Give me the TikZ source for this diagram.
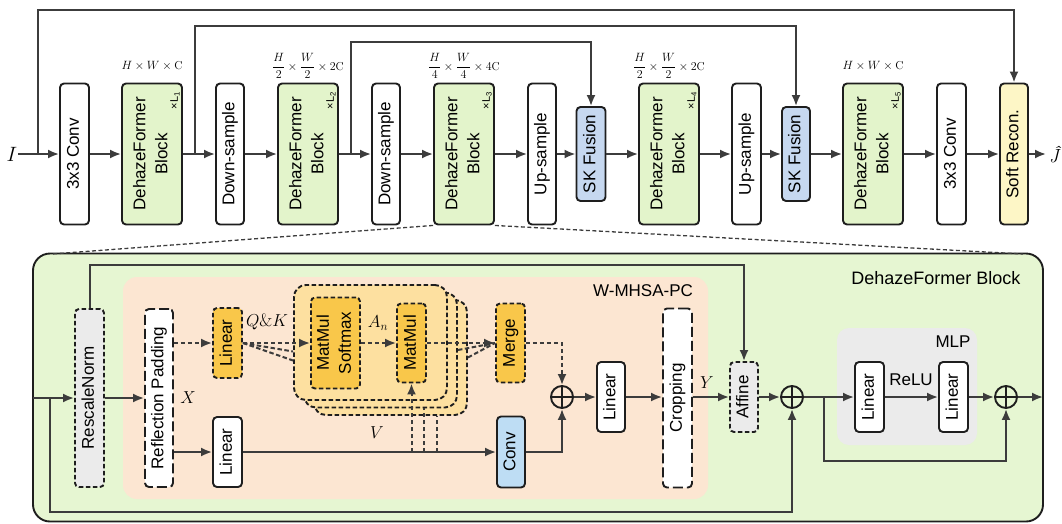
\documentclass[tikz,border=0pt]{standalone}
\usepackage{fontspec}
\setsansfont{Liberation Sans}
\usepackage{amsmath}
\usetikzlibrary{arrows.meta,calc}
\definecolor{greenf}{HTML}{E3F4CB}
\definecolor{bigf}{HTML}{E6F6D2}
\definecolor{peach}{HTML}{FCE6D2}
\definecolor{orangef}{HTML}{F9C74A}
\definecolor{stackf}{HTML}{FDE0A0}
\definecolor{skblue}{HTML}{C6D8F0}
\definecolor{convblue}{HTML}{BEDDF4}
\definecolor{softy}{HTML}{FDF6C6}
\definecolor{grayf}{HTML}{EBEBEB}
\definecolor{linec}{HTML}{3C3C3C}
\definecolor{boxc}{HTML}{1E1E1E}
\newcommand{\vtxt}[1]{\rotatebox{90}{\begin{tabular}{@{}c@{}}#1\end{tabular}}}
\tikzset{
  box/.style={draw=boxc, line width=1.9pt, rounded corners=4pt, inner sep=0pt,
    font=\sffamily\fontsize{17}{22}\selectfont},
  dbox/.style={box, dash pattern=on 4.5pt off 2.5pt},
  ldbox/.style={box, dash pattern=on 10pt off 4pt},
  arr/.style={draw=linec, line width=2pt, -{Latex[length=11pt,width=9pt]}},
  line/.style={draw=linec, line width=2pt},
  darr/.style={arr, dash pattern=on 4.5pt off 2.5pt},
  dline/.style={line, dash pattern=on 4.5pt off 2.5pt},
  pluss/.style={draw=boxc, circle, line width=1.9pt, minimum size=22pt, inner sep=0pt},
  dimlab/.style={font=\fontsize{11.5}{12}\selectfont},
  mlab/.style={font=\fontsize{18}{18}\selectfont},
  lname/.style={font=\sffamily\fontsize{11}{11}\selectfont, inner sep=0pt},
  tlab/.style={font=\sffamily\fontsize{17}{18}\selectfont}
}
\begin{document}
\begin{tikzpicture}[x=1pt,y=-1pt]
\useasboundingbox (0,0) rectangle (1062,523);
% ===== top row =====
\node[box, fill=white, minimum width=29pt, minimum height=141pt] (conv1) at (74.5,154) {\vtxt{3x3 Conv}};
\node[box, fill=greenf, minimum width=60pt, minimum height=141pt] (dfb1) at (152,154) {\vtxt{DehazeFormer\\Block}};
\node[box, fill=white, minimum width=28pt, minimum height=141pt] (down1) at (230,154) {\vtxt{Down-sample}};
\node[box, fill=greenf, minimum width=60pt, minimum height=141pt] (dfb2) at (308,154) {\vtxt{DehazeFormer\\Block}};
\node[box, fill=white, minimum width=28pt, minimum height=141pt] (down2) at (386,154) {\vtxt{Down-sample}};
\node[box, fill=greenf, minimum width=60pt, minimum height=141pt] (dfb3) at (464,154) {\vtxt{DehazeFormer\\Block}};
\node[box, fill=white, minimum width=28pt, minimum height=141pt] (up1) at (542,154) {\vtxt{Up-sample}};
\node[box, fill=skblue, minimum width=29pt, minimum height=94pt] (sk1) at (591,154) {\vtxt{SK Fusion}};
\node[box, fill=greenf, minimum width=60pt, minimum height=141pt] (dfb4) at (669,154) {\vtxt{DehazeFormer\\Block}};
\node[box, fill=white, minimum width=29pt, minimum height=141pt] (up2) at (746.5,154) {\vtxt{Up-sample}};
\node[box, fill=skblue, minimum width=28pt, minimum height=94pt] (sk2) at (796,154) {\vtxt{SK Fusion}};
\node[box, fill=greenf, minimum width=60pt, minimum height=141pt] (dfb5) at (873,154) {\vtxt{DehazeFormer\\Block}};
\node[box, fill=white, minimum width=29pt, minimum height=141pt] (conv2) at (951.5,154) {\vtxt{3x3 Conv}};
\node[box, fill=softy, minimum width=28pt, minimum height=141pt] (soft) at (1014,154) {\vtxt{Soft Recon.}};
% repeat counts
\node[lname] (L1) at ($(dfb1.north east)+(-8,18)$) {\rotatebox{90}{×L\textsubscript{1}}};
\node[lname] (L2) at ($(dfb2.north east)+(-8,18)$) {\rotatebox{90}{×L\textsubscript{2}}};
\node[lname] (L3) at ($(dfb3.north east)+(-8,18)$) {\rotatebox{90}{×L\textsubscript{3}}};
\node[lname] (L4) at ($(dfb4.north east)+(-8,18)$) {\rotatebox{90}{×L\textsubscript{4}}};
\node[lname] (L5) at ($(dfb5.north east)+(-8,18)$) {\rotatebox{90}{×L\textsubscript{5}}};
% dimension labels
\node[dimlab] (d1) at (152,66) {$H\times W\times \mathrm{C}$};
\node[dimlab] (d2) at (308,66) {$\dfrac{H}{2}\times\dfrac{W}{2}\times 2\mathrm{C}$};
\node[dimlab] (d3) at (464,66) {$\dfrac{H}{4}\times\dfrac{W}{4}\times 4\mathrm{C}$};
\node[dimlab] (d4) at (669,66) {$\dfrac{H}{2}\times\dfrac{W}{2}\times 2\mathrm{C}$};
\node[dimlab] (d5) at (873,66) {$H\times W\times \mathrm{C}$};
% input / output
\node[font=\fontsize{20}{20}\selectfont, inner sep=1pt] (inI) at (12,154) {$I$};
\node[font=\fontsize{19}{19}\selectfont\itshape, inner sep=0pt] (outJ) at (1054,155) {Ĵ};
\coordinate (outT) at (1046,154);
% main arrows
\draw[arr] (inI.east) -- (conv1.west);
\draw[arr] (conv1) -- (dfb1);
\draw[arr] (dfb1) -- (down1);
\draw[arr] (down1) -- (dfb2);
\draw[arr] (dfb2) -- (down2);
\draw[arr] (down2) -- (dfb3);
\draw[arr] (dfb3) -- (up1);
\draw[arr] (up1) -- (sk1);
\draw[arr] (sk1) -- (dfb4);
\draw[arr] (dfb4) -- (up2);
\draw[arr] (up2) -- (sk2);
\draw[arr] (sk2) -- (dfb5);
\draw[arr] (dfb5) -- (conv2);
\draw[arr] (conv2) -- (soft);
\draw[arr] (soft.east) -- (outT);
% skip connections
\coordinate (s1) at (38,154); \coordinate (t1) at (38,10);
\coordinate (s2) at (195,154); \coordinate (t2) at (195,26);
\coordinate (s3) at (351,154); \coordinate (t3) at (351,42);
\draw[arr] (s1) -- (t1) -| (soft.north);
\draw[arr] (s2) -- (t2) -| (sk2.north);
\draw[arr] (s3) -- (t3) -| (sk1.north);
% ===== bottom block =====
\node[draw=boxc, line width=1.9pt, fill=bigf, rounded corners=17pt, minimum width=1010pt, minimum height=268pt, inner sep=0pt] (big) at (538,387.5) {};
\coordinate (zl) at (52,254); \coordinate (zr) at (1023,254);
\draw[line, line width=1.3pt, dash pattern=on 4pt off 2.5pt] (dfb3.south west) -- (zl);
\draw[line, line width=1.3pt, dash pattern=on 4pt off 2.5pt] (dfb3.south east) -- (zr);
\node[tlab, font=\sffamily\fontsize{18}{19}\selectfont, anchor=east] (bigname) at (1024,278) {DehazeFormer Block};
% W-MHSA-PC region
\node[fill=peach, rounded corners=14pt, minimum width=585pt, minimum height=222pt, inner sep=0pt] (wm) at (415.5,388) {};
\node[tlab] (wmname) at (643,291) {W-MHSA-PC};
% MLP region
\node[fill=grayf, rounded corners=12pt, minimum width=140pt, minimum height=117pt, inner sep=0pt] (mlpr) at (907,386.5) {};
\node[tlab] (mlpname) at (953,342) {MLP};
% heads stack
\node[dbox, fill=stackf, rounded corners=12pt, minimum width=153pt, minimum height=115pt] (h3) at (390.5,357.5) {};
\node[dbox, fill=stackf, rounded corners=12pt, minimum width=153pt, minimum height=115pt] (h2) at (380.5,350) {};
\node[dbox, fill=stackf, rounded corners=12pt, minimum width=153pt, minimum height=115pt] (h1) at (370.5,342.5) {};
% boxes
\node[dbox, fill=grayf, minimum width=29pt, minimum height=178pt] (rescale) at (89.5,398) {\vtxt{RescaleNorm}};
\node[ldbox, fill=white, minimum width=28pt, minimum height=178pt] (refl) at (159,398) {\vtxt{Reflection Padding}};
\node[dbox, fill=orangef, minimum width=29pt, minimum height=70pt] (linQK) at (227.5,343) {\vtxt{Linear}};
\node[box, fill=white, minimum width=29pt, minimum height=70pt] (linV) at (227.5,452) {\vtxt{Linear}};
\node[dbox, fill=orangef, minimum width=49pt, minimum height=91pt] (mms) at (335.5,343) {\vtxt{MatMul\\Softmax}};
\node[dbox, fill=orangef, minimum width=29pt, minimum height=79pt] (mm) at (411.5,343) {\vtxt{MatMul}};
\node[dbox, fill=orangef, minimum width=29pt, minimum height=79pt] (merge) at (510.5,343) {\vtxt{Merge}};
\node[box, fill=convblue, minimum width=28pt, minimum height=71pt] (conv) at (511,452) {\vtxt{Conv}};
\node[pluss] (p1) at (562,397) {};
\node[box, fill=white, minimum width=28pt, minimum height=70pt] (lin2) at (611,397) {\vtxt{Linear}};
\node[ldbox, fill=white, minimum width=29pt, minimum height=179pt] (crop) at (677.5,398) {\vtxt{Cropping}};
\node[dbox, fill=grayf, minimum width=28pt, minimum height=70pt] (affine) at (744,397) {\vtxt{Affine}};
\node[pluss] (p2) at (792,397) {};
\node[box, fill=white, minimum width=29pt, minimum height=70pt] (lin3) at (869.5,397) {\vtxt{Linear}};
\node[box, fill=white, minimum width=29pt, minimum height=70pt] (lin4) at (953.5,397) {\vtxt{Linear}};
\node[pluss] (p3) at (1006,397) {};
\foreach \p in {p1,p2,p3}{
  \draw[draw=boxc, line width=1.9pt] (\p.north) -- (\p.south) (\p.west) -- (\p.east);
}
% labels
\node[mlab] (Xl) at (188,398) {$X$};
\node[mlab] (QKl) at (267,322) {$Q\&K$};
\node[mlab] (Anl) at (378,323) {$A_n$};
\node[mlab] (Vl) at (377,433) {$V$};
\node[mlab] (Yl) at (707,383) {$Y$};
\node[tlab] (relul) at (911,380) {ReLU};
% connectors bottom
\coordinate (inL) at (33,398);
\coordinate (br0) at (50,398);
\coordinate (boty) at (0,512);
\coordinate (topy) at (0,265);
\draw[arr] (inL) -- (rescale.west);
\draw[arr] (br0) -- (br0 |- boty) -| (p2.south);
\draw[arr] (rescale.north) -- (rescale.north |- topy) -| (affine.north);
\draw[arr] (rescale.east) -- (refl.west);
\draw[darr] (refl.east |- linQK.west) -- (linQK.west);
\draw[arr] (refl.east |- linV.west) -- (linV.west);
\draw[darr] (linQK.east) -- (mms.west);
\draw[dline] (linQK.east) -- ($(h1.west)+(0,9)$);
\draw[dline] (linQK.east) -- ($(h1.west)+(0,18)$);
\draw[darr] (mms.east) -- (mm.west);
\draw[darr] (mm.east) -- (merge.west);
\draw[dline] (h2.east) -- (merge.west);
\draw[dline] (h3.east) -- (merge.west);
\draw[arr] (linV.east) -- (conv.west);
\coordinate (vA) at (mm.south |- linV.east);
\coordinate (vB) at (424,452);
\coordinate (vC) at (437,452);
\draw[darr] (vA) -- (mm.south);
\draw[dline] (vB) -- (vB |- h2.south);
\draw[dline] (vC) -- (vC |- h3.south);
\draw[darr] (merge.east) -| (p1.north);
\draw[arr] (conv.east) -| (p1.south);
\draw[arr] (p1.east) -- (lin2.west);
\draw[arr] (lin2.east) -- (crop.west |- lin2.east);
\draw[arr] (crop.east |- affine.west) -- (affine.west);
\draw[arr] (affine.east) -- (p2.west);
\draw[arr] (p2.east) -- (lin3.west);
\coordinate (br1) at (824,397);
\coordinate (boty2) at (0,461);
\draw[arr] (br1) -- (br1 |- boty2) -| (p3.south);
\draw[arr] (lin3.east) -- (lin4.west);
\draw[arr] (lin4.east) -- (p3.west);
\coordinate (outR) at (1043,397);
\draw[arr] (p3.east) -- (outR);
\end{tikzpicture}
\end{document}
